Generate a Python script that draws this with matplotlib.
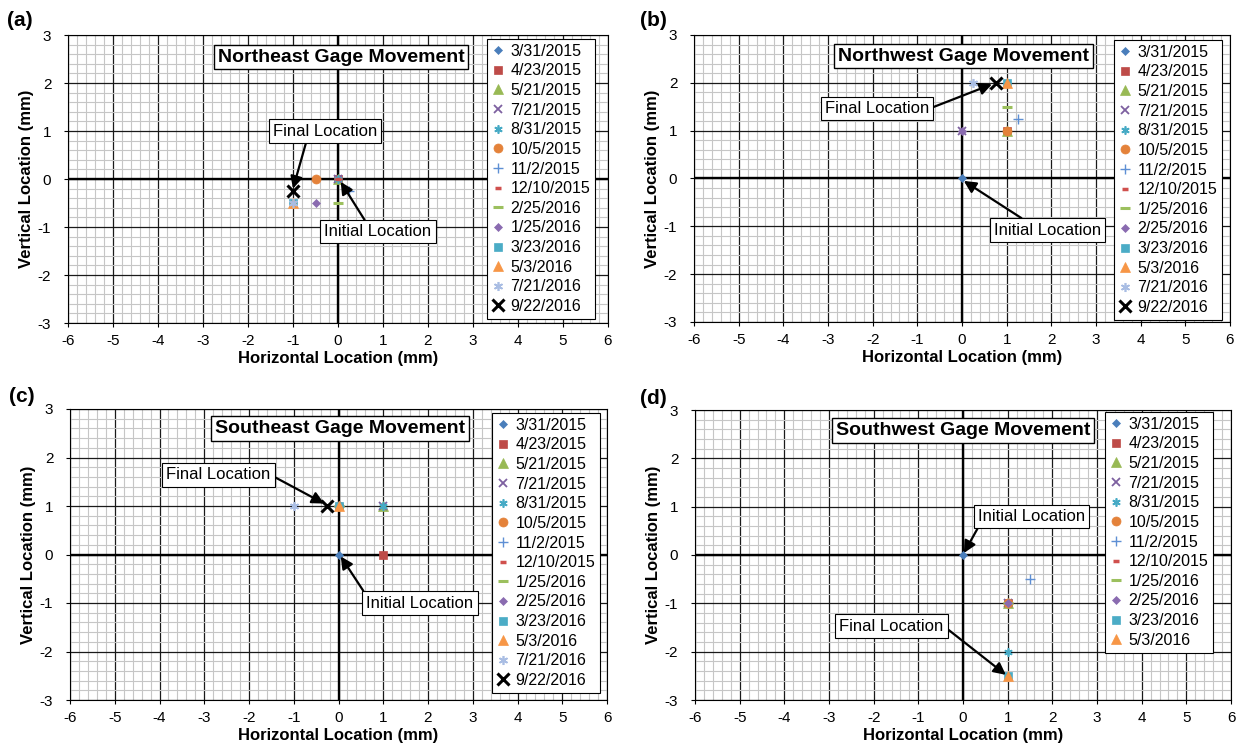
import numpy as np
import matplotlib
matplotlib.use("Agg")
import matplotlib.pyplot as plt
from matplotlib.ticker import MultipleLocator

plt.rcParams['font.family'] = ['Liberation Sans', 'DejaVu Sans']
plt.rcParams['axes.unicode_minus'] = False

# ---------------- data ----------------
labels_ne = ["3/31/2015", "4/23/2015", "5/21/2015", "7/21/2015", "8/31/2015", "10/5/2015",
             "11/2/2015", "12/10/2015", "2/25/2016", "1/25/2016", "3/23/2016", "5/3/2016",
             "7/21/2016", "9/22/2016"]
ne_x = [0, 0, 0, 0, 0, -0.5, 0.25, 0, 0, -0.5, -1, -1, -1, -1]
ne_y = [0, 0, 0, 0, 0, 0, -0.25, 0, -0.5, -0.5, -0.5, -0.5, -0.5, -0.25]

labels_std = ["3/31/2015", "4/23/2015", "5/21/2015", "7/21/2015", "8/31/2015", "10/5/2015",
              "11/2/2015", "12/10/2015", "1/25/2016", "2/25/2016", "3/23/2016", "5/3/2016",
              "7/21/2016", "9/22/2016"]
nw_x = [0, 1, 1, 0, 1, 1, 1.25, 1, 1, 0, 1, 1, 0.25, 0.75]
nw_y = [0, 1, 1, 1, 1, 1, 1.25, 2, 1.5, 1, 2, 2, 2, 2]

se_x = [0, 1, 1, 1, 1, 0, 0, 0, 0, 0, 0, 0, -1, -0.25]
se_y = [0, 0, 1, 1, 1, 1, 1, 1, 1, 1, 1, 1, 1, 1]

labels_sw = labels_std[:12]
sw_x = [0, 1, 1, 1, 1, 1, 1.5, 1, 1, 1, 1, 1]
sw_y = [0, -1, -1, -1, -2, -1, -0.5, -1, -1, -1, -2.5, -2.5]

titles = ["Northeast Gage Movement", "Northwest Gage Movement",
          "Southeast Gage Movement", "Southwest Gage Movement"]
panel_tags = ["(a)", "(b)", "(c)", "(d)"]

# ---------------- styles ----------------
star = (6, 2, 0)
styles = [
    dict(marker='D', color='#4A7EBB', ms=4.2, mew=0.5),
    dict(marker='s', color='#BE4B48', ms=6, mew=0.5),
    dict(marker='^', color='#98B954', ms=6.5, mew=0.5),
    dict(marker='x', color='#7D60A0', ms=5.5, mew=1.3),
    dict(marker=star, color='#46AAC5', ms=6, mew=1.2),
    dict(marker='o', color='#E4823A', ms=6.5, mew=0.5),
    dict(marker='+', color='#5E8FD4', ms=6.5, mew=1.0),
    dict(marker='_', color='#D0504D', ms=4, mew=2.5),
    dict(marker='_', color='#9CC05E', ms=7, mew=2.2),
    dict(marker='D', color='#8A6BB0', ms=4.2, mew=0.5),
    dict(marker='s', color='#4BACC6', ms=6, mew=0.5),
    dict(marker='^', color='#F79646', ms=7, mew=0.5),
    dict(marker=star, color='#A9BDE3', ms=6.5, mew=1.2),
    dict(marker='x', color='black', ms=8, mew=2.2),
]

W, H = 1241, 751
fig = plt.figure(figsize=(W / 100, H / 100), dpi=100)

# axes pixel boxes: left, right, top, bottom
boxes = [(68, 608, 35, 323), (694, 1230, 35, 322), (70, 607, 409, 700), (695, 1231, 410, 700)]

panels = [
    (labels_ne, ne_x, ne_y),
    (labels_std, nw_x, nw_y),
    (labels_std, se_x, se_y),
    (labels_sw, sw_x, sw_y),
]

title_pos = [(0.07, 2.54), (0.03, 2.56), (0.04, 2.59), (0.0, 2.57)]
legend_anchor = [(595, 39), (1222, 40), (600, 413), (1213, 412)]

# annotations: (text, xy, xytext, relpos)
annots = [
    [("Final Location", (-1.0, -0.2), (-0.29, 1.0), (0.33, 0.0)),
     ("Initial Location", (0.06, -0.06), (0.89, -1.1), (0.4, 1.0))],
    [("Final Location", (0.67, 1.97), (-1.9, 1.46), (1.0, 0.5)),
     ("Initial Location", (0.04, -0.05), (1.92, -1.08), (0.32, 1.0))],
    [("Final Location", (-0.32, 1.05), (-2.68, 1.64), (1.0, 0.5)),
     ("Initial Location", (0.05, -0.04), (1.82, -1.0), (0.0, 1.0))],
    [("Initial Location", (0.02, 0.04), (1.53, 0.79), (0.02, 0.0)),
     ("Final Location", (0.96, -2.48), (-1.6, -1.47), (1.0, 0.5))],
]

tag_pos = [(7, 21), (640, 21), (9, 397), (640, 399)]

for i, ((l, r, t, b), (labs, xs, ys)) in enumerate(zip(boxes, panels)):
    ax = fig.add_axes([l / W, 1 - b / H, (r - l) / W, (b - t) / H])
    ax.set_xlim(-6, 6)
    ax.set_ylim(-3, 3)
    ax.xaxis.set_major_locator(MultipleLocator(1))
    ax.yaxis.set_major_locator(MultipleLocator(1))
    ax.xaxis.set_minor_locator(MultipleLocator(0.2))
    ax.yaxis.set_minor_locator(MultipleLocator(0.2))
    ax.grid(which='minor', color='#C6C6C6', lw=0.8, zorder=0)
    ax.grid(which='major', color='#1A1A1A', lw=0.9, zorder=1)
    ax.set_axisbelow(True)
    ax.axhline(0, color='black', lw=1.7, zorder=1.5)
    ax.axvline(0, color='black', lw=1.7, zorder=1.5)
    for sp in ax.spines.values():
        sp.set_color('black')
        sp.set_linewidth(0.8)
    ax.tick_params(which='minor', length=0)
    ax.tick_params(which='major', length=3, direction='out', labelsize=11, color='black')
    ax.tick_params(axis='x', pad=5)
    ax.tick_params(axis='y', pad=9)
    ax.set_xlabel("Horizontal Location (mm)", fontsize=12, fontweight='bold', labelpad=2)
    ax.set_ylabel("Vertical Location (mm)", fontsize=12, fontweight='bold', labelpad=3)

    handles = []
    for k, lab in enumerate(labs):
        st = styles[k]
        h, = ax.plot([xs[k]], [ys[k]], linestyle='none', marker=st['marker'],
                     color=st['color'], markersize=st['ms'], markeredgewidth=st['mew'],
                     label=lab, zorder=3 + k * 0.01)
        handles.append(h)

    ax.text(title_pos[i][0], title_pos[i][1], titles[i], fontsize=14, fontweight='bold',
            ha='center', va='center', zorder=6,
            bbox=dict(boxstyle='square,pad=0.2', fc='white', ec='black', lw=1.0))

    lx, ly = legend_anchor[i]
    leg = ax.legend(handles=handles, loc='upper right',
                    bbox_to_anchor=((lx - l) / (r - l), 1 - (ly - t) / (b - t)),
                    borderaxespad=0, fontsize=11.5, labelspacing=0.29, handlelength=0.9,
                    handletextpad=0.3, borderpad=0.3, fancybox=False, framealpha=1,
                    edgecolor='black', markerscale=1.0)
    leg.get_frame().set_linewidth(0.8)
    leg.set_zorder(7)

    for text, xy, xyt, rp in annots[i]:
        ax.annotate(text, xy=xy, xytext=xyt, ha='center', va='center', fontsize=12,
                    zorder=8,
                    bbox=dict(boxstyle='square,pad=0.25', fc='white', ec='black', lw=0.8),
                    arrowprops=dict(arrowstyle='-|>,head_length=0.6,head_width=0.3',
                                    color='black', lw=1.6, relpos=rp,
                                    shrinkA=0, shrinkB=0))

    fig.text(tag_pos[i][0] / W, 1 - tag_pos[i][1] / H, panel_tags[i], fontsize=15,
             fontweight='bold', ha='left', va='center')

fig.savefig("out.png", dpi=100)
